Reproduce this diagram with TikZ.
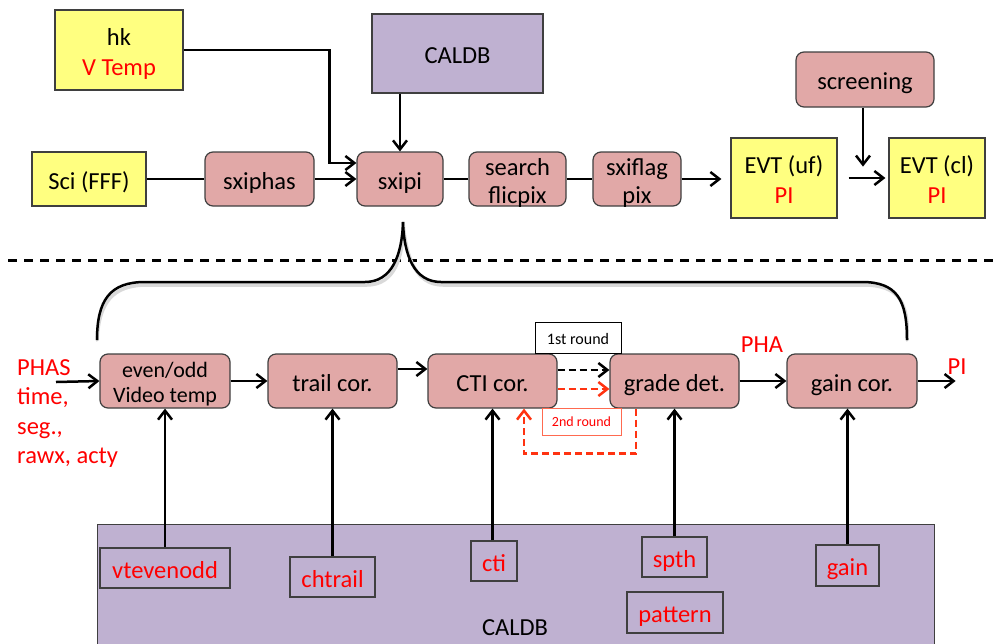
\documentclass[tikz,border=0pt]{standalone}
\usepackage{fontspec}
\setmainfont{Carlito}
\usetikzlibrary{arrows.meta}
\definecolor{ylw}{HTML}{FFFF80}
\definecolor{pnk}{HTML}{E1A8A7}
\definecolor{lav}{HTML}{BFB1D1}
\definecolor{edgegray}{HTML}{3F3F3F}
\definecolor{rd}{HTML}{FF0000}
\definecolor{ord}{HTML}{FF3311}
\definecolor{lightord}{HTML}{FF6A50}
% two centred lines; the optional argument puts the last baseline below the box centre
\newcommand\twolines[3][-25.5pt]{\raisebox{#1}[0pt][0pt]{\begin{tabular}[b]{@{}c@{}}#2\\#3\end{tabular}}}
\begin{document}
\begin{tikzpicture}[x=1pt,y=-1pt,
  every node/.style={inner sep=0pt, font=\fontsize{24.5}{30}\selectfont},
  oneline/.style={text height=24pt, text depth=4pt},
  databox/.style={draw=edgegray, line width=1.2pt, fill=ylw},
  procbox/.style={draw=edgegray, line width=1.2pt, fill=pnk, rounded corners=8pt},
  calbox/.style={draw=edgegray, line width=1.2pt, fill=lav},
  parbox/.style={draw=edgegray, line width=1.2pt, fill=lav, text=rd, oneline},
  flow/.style={line width=2.5pt, -{Straight Barb[length=9pt,width=14pt]}},
  link/.style={line width=2.5pt},
  dflow/.style={flow, dash pattern=on 7pt off 4pt},
  redflow/.style={dflow, draw=ord},
  redtxt/.style={text=rd},
]
\useasboundingbox (0,0) rectangle (1000,643);

% ---------- upper pipeline ----------
\node[databox, minimum width=128, minimum height=80] (hk) at (119,50) {\twolines{hk}{\color{rd}V Temp}};
\node[calbox, oneline, minimum width=171, minimum height=79] (caldbtop) at (457.5,53.5) {CALDB};
\node[databox, oneline, minimum width=114, minimum height=54] (sci) at (89,179) {Sci (FFF)};
\node[procbox, oneline, minimum width=109, minimum height=54] (sxiphas) at (259.5,179) {sxiphas};
\node[procbox, oneline, minimum width=86, minimum height=54] (sxipi) at (400,179) {sxipi};
\node[procbox, minimum width=97, minimum height=54, font=\fontsize{24.5}{28}\selectfont] (search) at (517.5,179) {\twolines[-24pt]{search}{flicpix}};
\node[procbox, minimum width=88, minimum height=54, font=\fontsize{24.5}{28}\selectfont] (sxiflag) at (637,179) {\twolines[-24pt]{sxiflag}{pix}};
\node[databox, minimum width=106, minimum height=80] (evtuf) at (784,178) {\twolines[-25pt]{EVT (uf)}{\color{rd}PI}};
\node[databox, minimum width=96, minimum height=80] (evtcl) at (937,178) {\twolines[-25pt]{EVT (cl)}{\color{rd}PI}};
\node[procbox, oneline, minimum width=138, minimum height=55] (screening) at (865,79.5) {screening};

\draw[flow] (hk.east) -- ++(146,0) |- ([yshift=16pt]sxipi.west);
\draw[link] (sci.east) -- (sxiphas.west);
\draw[flow] (sxiphas.east) -- (sxipi.west);
\draw[flow] (caldbtop.south -| sxipi.north) -- (sxipi.north);
\draw[link] (sxipi.east) -- (search.west);
\draw[link] (search.east) -- (sxiflag.west);
\draw[flow, shorten >=9pt] (sxiflag.east) -- (sxiflag.east -| evtuf.west);
\draw[flow, shorten <=11pt, shorten >=3pt] (evtuf.east) -- (evtcl.west);
\draw[flow] ([xshift=-2pt]screening.south) -- ++(0,59);

% ---------- separator ----------
\coordinate (sepL) at (8,260);
\coordinate (sepR) at (1000,260);
\draw[line width=3pt, dash pattern=on 9pt off 7pt] (sepL) -- (sepR);

% ---------- brace expanding sxipi ----------
\coordinate (braceL) at (97,340);
\coordinate (braceTip) at (403,222);
\coordinate (braceR) at (907,340);
\begin{scope}[shift={(2,3)}]
\draw[line width=3.5pt, gray!30, line cap=round]
  (braceL) .. controls (97,300) and (110,282) .. (145,282) -- (365,282)
  .. controls (392,282) and (402,255) .. (braceTip)
  .. controls (404,255) and (414,282) .. (441,282) -- (862,282)
  .. controls (897,282) and (907,300) .. (braceR);
\end{scope}
\draw[line width=2.5pt]
  (braceL) .. controls (97,300) and (110,282) .. (145,282) -- (365,282)
  .. controls (392,282) and (402,255) .. (braceTip)
  .. controls (404,255) and (414,282) .. (441,282) -- (862,282)
  .. controls (897,282) and (907,300) .. (braceR);

% ---------- sxipi internals ----------
\node[procbox, minimum width=130, minimum height=54, font=\fontsize{22}{25}\selectfont] (evenodd) at (165,381) {\twolines[-21pt]{even/odd}{Video temp}};
\node[procbox, oneline, minimum width=129, minimum height=54] (trail) at (332.5,381) {trail cor.};
\node[procbox, oneline, minimum width=129, minimum height=54] (cti) at (492.5,381) {CTI cor.};
\node[procbox, oneline, minimum width=129, minimum height=54] (grade) at (674.5,381) {grade det.};
\node[procbox, oneline, minimum width=130, minimum height=54] (gaincor) at (852,381) {gain cor.};

\node[redtxt, align=left, anchor=north west, font=\fontsize{24.5}{29.5}\selectfont] (phas) at (17,359) {PHAS\\time,\\seg.,\\rawx, acty};
\node[redtxt] (pha) at (762,345) {PHA};
\node[redtxt] (pi) at (957,367) {PI};

\node[draw=black, line width=0.8pt, fill=white, minimum width=86, minimum height=31, text height=16pt, text depth=2.5pt, font=\fontsize{16}{18}\selectfont] (first) at (578,337.5) {1st round};
\node[draw=lightord, line width=0.8pt, fill=white, text=rd, minimum width=79, minimum height=27, text height=13pt, text depth=2.6pt, font=\fontsize{14}{16}\selectfont] (second) at (581.5,421.5) {2nd round};

\coordinate (phasin) at (56,382);
\draw[flow] (phasin) -- (evenodd.west);
\draw[flow] (evenodd.east) -- (trail.west);
\draw[flow] ([yshift=12pt]trail.east) -- ([yshift=12pt]cti.west);
\draw[dflow] ([yshift=11pt]cti.east) -- ([yshift=11pt]grade.west);
\draw[redflow] ([yshift=-8pt]cti.east) -- ([yshift=-8pt]grade.west);
\draw[redflow] ([xshift=-38.5pt]grade.south) -- ++(0,45) -| ([xshift=31.5pt]cti.south);
\draw[flow] (grade.east) -- (gaincor.west);
\draw[flow] (gaincor.east) -- ++(38,0);

% ---------- calibration database ----------
\node[calbox, minimum width=837, minimum height=130, anchor=north west] (caldbbot) at (97,524) {};
\node[oneline] (caldblabel) at (515,625) {CALDB};
\node[parbox, minimum width=130, minimum height=40] (vteo) at (165,568) {vtevenodd};
\node[parbox, minimum width=85, minimum height=40] (chtrail) at (332.5,577) {chtrail};
\node[parbox, minimum width=46, minimum height=40] (ctip) at (494,561) {cti};
\node[parbox, minimum width=65, minimum height=40] (spth) at (674.5,557) {spth};
\node[parbox, minimum width=96, minimum height=41] (pattern) at (675,612.5) {pattern};
\node[parbox, minimum width=63, minimum height=41] (gainp) at (847.5,565.5) {gain};

\draw[flow] (vteo.north) -- (evenodd.south);
\draw[flow] (chtrail.north) -- (trail.south);
\draw[flow] (ctip.north -| cti.south) -- (cti.south);
\draw[flow] (spth.north) -- (spth.north |- grade.south);
\draw[flow] (gainp.north) -- (gainp.north |- gaincor.south);
\end{tikzpicture}
\end{document}
